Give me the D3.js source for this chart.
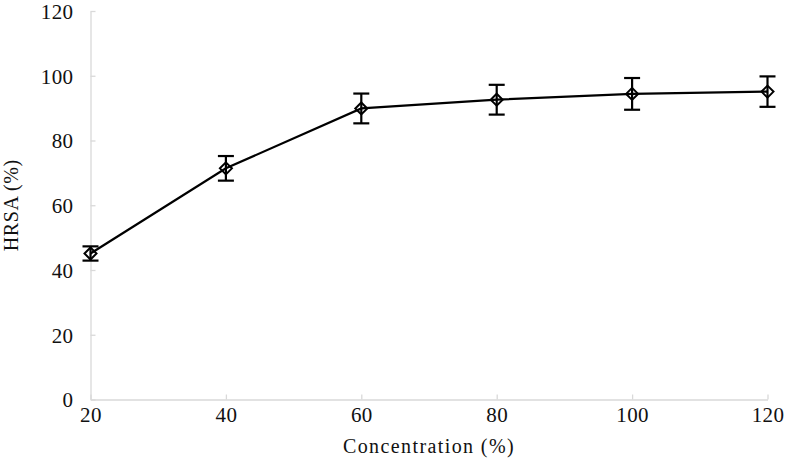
<!DOCTYPE html>
<html><head><meta charset="utf-8">
<script src="https://cdn.jsdelivr.net/npm/d3@7"></script>
<style>body{margin:0;background:#fff} svg text{font-family:"Liberation Serif","DejaVu Serif",serif}</style>
</head><body>
<svg id="c" width="786" height="469"></svg>
<script>
const concentration = [20, 40, 60, 80, 100, 120];
const hrsa = [45.1, 71.4, 89.9, 92.6, 94.4, 95.1];
const errorSD = [2.2, 3.8, 4.6, 4.6, 4.9, 4.7];
const xTicks = [20, 40, 60, 80, 100, 120];
const yTicks = [0, 20, 40, 60, 80, 100, 120];
const xTitle = "Concentration (%)";
const yTitle = "HRSA (%)";

const svg = d3.select("#c");
const x = d3.scaleLinear().domain([20, 120]).range([90.5, 767.5]);
const y = d3.scaleLinear().domain([0, 120]).range([399.5, 11]);
const axisColor = "#d9d9d9";

// axes
const xa = svg.append("g").attr("transform", `translate(0,${y(0)})`)
  .call(d3.axisBottom(x).tickValues(xTicks).tickSizeInner(-5).tickSizeOuter(0).tickPadding(0));
const ya = svg.append("g").attr("transform", `translate(${x(20)},0)`)
  .call(d3.axisLeft(y).tickValues(yTicks).tickSizeInner(-5).tickSizeOuter(0).tickPadding(0));
[xa, ya].forEach(a => {
  a.attr("font-family", null);
  a.select(".domain").attr("stroke", axisColor).attr("stroke-width", 1.3);
  a.selectAll(".tick line").attr("stroke", axisColor).attr("stroke-width", 1.3);
  a.selectAll("text").attr("font-size", 21).attr("fill", "#111").attr("letter-spacing", 0.4);
});
xa.selectAll("text").attr("y", 22).attr("dy", null);
ya.selectAll("text").attr("x", -17).attr("dy", "0.35em");

// titles
svg.append("text").attr("x", (x(20) + x(120)) / 2).attr("y", 453)
  .attr("text-anchor", "middle").attr("font-size", 20).attr("letter-spacing", 1.4)
  .attr("fill", "#111").text(xTitle);
svg.append("text").attr("transform", `translate(18,${(y(0) + y(120)) / 2}) rotate(-90)`)
  .attr("text-anchor", "middle").attr("font-size", 20).attr("letter-spacing", 0.6)
  .attr("fill", "#111").text(yTitle);

const pts = concentration.map((c, i) => ({ c, v: hrsa[i], e: errorSD[i] }));

// line
svg.append("path").datum(pts)
  .attr("d", d3.line().x(d => x(d.c)).y(d => y(d.v)))
  .attr("fill", "none").attr("stroke", "#000").attr("stroke-width", 2.2);

// error bars
const eb = svg.append("g").attr("stroke", "#000").attr("stroke-width", 2.2);
pts.forEach(d => {
  eb.append("line").attr("x1", x(d.c)).attr("x2", x(d.c)).attr("y1", y(d.v + d.e)).attr("y2", y(d.v - d.e));
  eb.append("line").attr("x1", x(d.c) - 8).attr("x2", x(d.c) + 8).attr("y1", y(d.v + d.e)).attr("y2", y(d.v + d.e));
  eb.append("line").attr("x1", x(d.c) - 8).attr("x2", x(d.c) + 8).attr("y1", y(d.v - d.e)).attr("y2", y(d.v - d.e));
});

// markers
svg.append("g").selectAll("path").data(pts).join("path")
  .attr("transform", d => `translate(${x(d.c)},${y(d.v)})`)
  .attr("d", "M0,-6L6,0L0,6L-6,0Z")
  .attr("fill", "none").attr("stroke", "#000").attr("stroke-width", 2);
</script>
</body></html>
